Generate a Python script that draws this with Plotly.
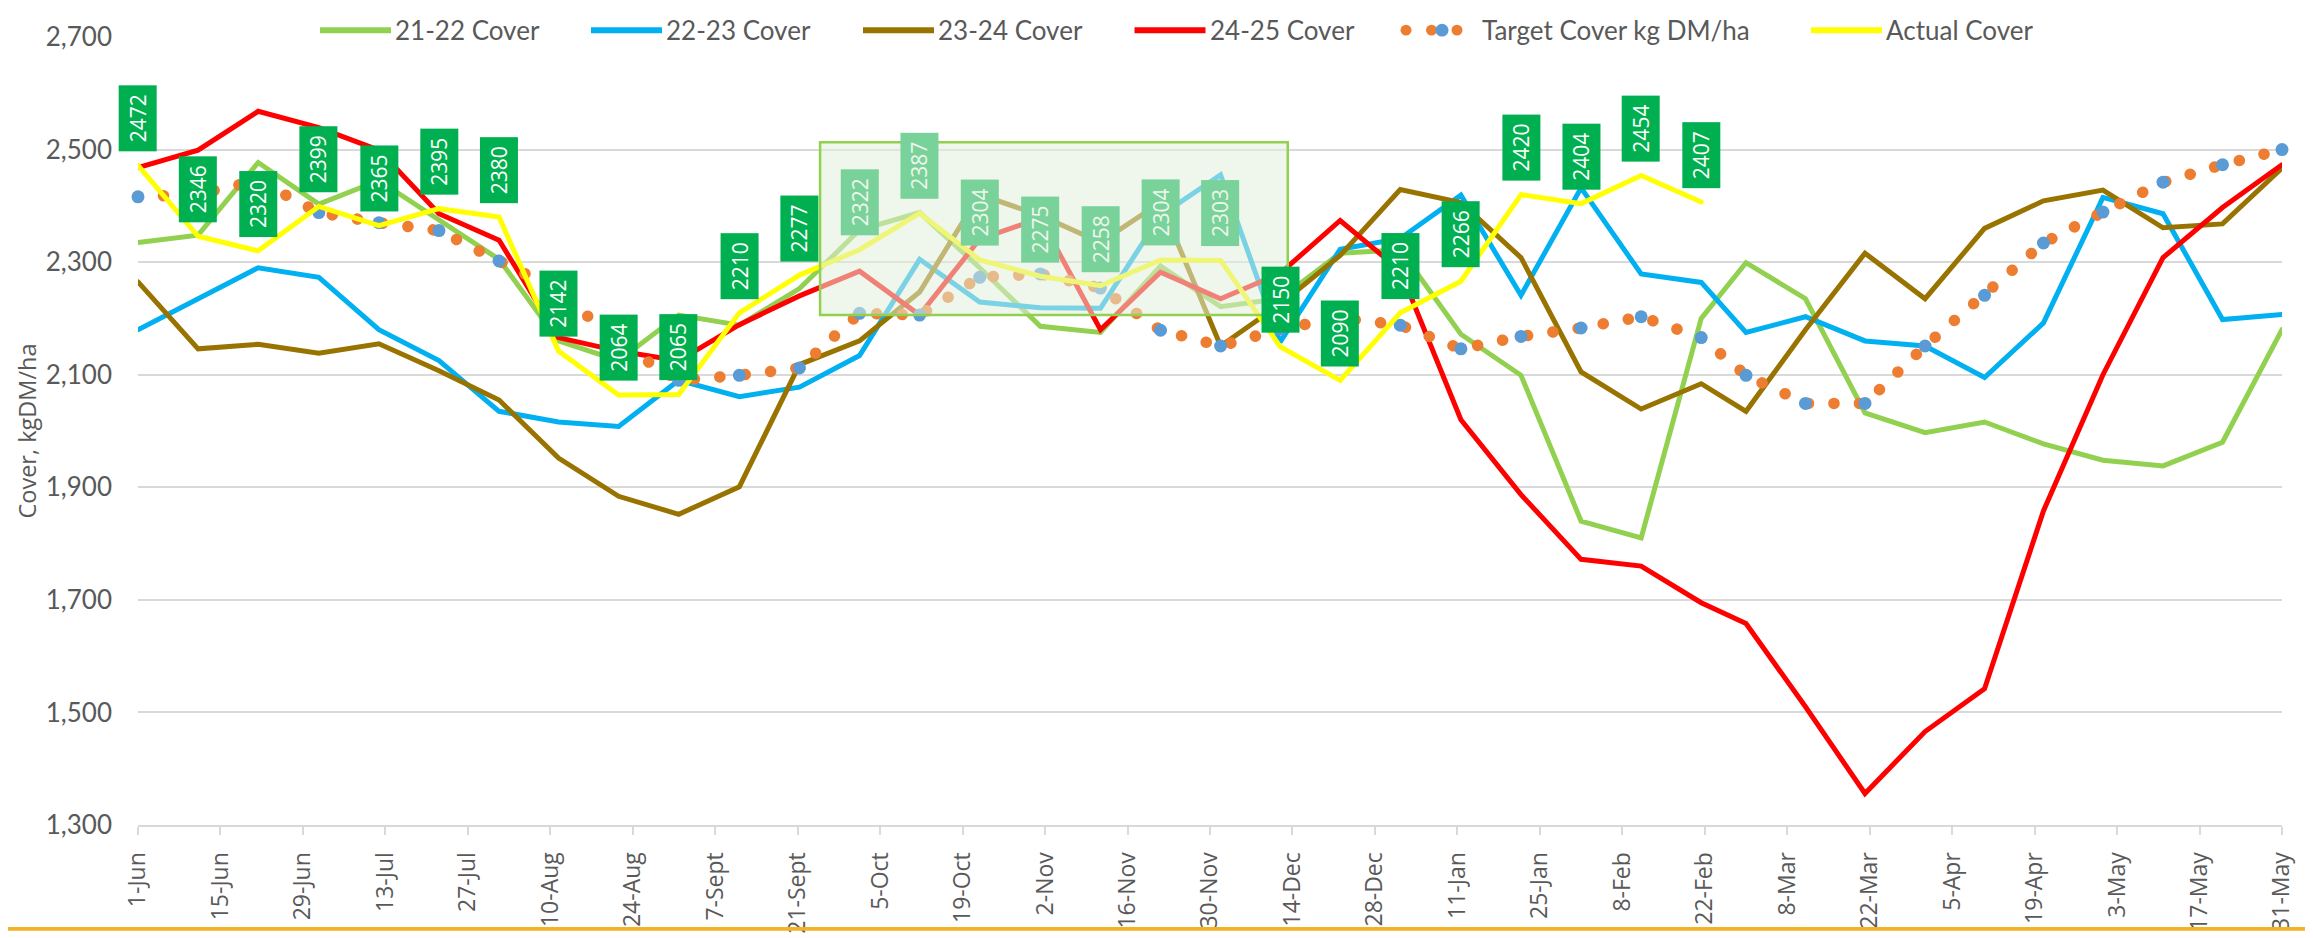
import plotly.graph_objects as go

# ---------------- data ----------------
tick_labels = ["1-Jun", "15-Jun", "29-Jun", "13-Jul", "27-Jul", "10-Aug", "24-Aug", "7-Sept",
               "21-Sept", "5-Oct", "19-Oct", "2-Nov", "16-Nov", "30-Nov", "14-Dec", "28-Dec",
               "11-Jan", "25-Jan", "8-Feb", "22-Feb", "8-Mar", "22-Mar", "5-Apr", "19-Apr",
               "3-May", "17-May", "31-May"]
tick_days = [0, 14, 28, 42, 56, 70, 84, 98, 112, 126, 140, 154, 168, 182, 196, 210,
             224, 238, 252, 266, 280, 294, 308, 322, 336, 350, 364]

# day of season (from 1-Jun) of each pasture walk
walk_days = [0, 10.2, 20.4, 30.7, 40.9, 51.1, 61.3, 71.4, 81.6, 91.8, 102.1, 112.3, 122.5,
             132.7, 142.9, 153.2, 163.4, 173.6, 183.8, 193.9, 204.1, 214.3, 224.6, 234.8,
             245.0, 255.2, 265.4, 273.0, 283.1, 293.2, 303.4, 313.5, 323.5, 333.6, 343.8,
             353.9, 364.0]

cover_21_22 = [2335, 2348, 2477, 2403, 2445, 2375, 2305, 2160, 2125, 2206, 2188, 2253, 2357,
               2388, 2290, 2186, 2175, 2293, 2221, 2235, 2316, 2322, 2172, 2099, 1840, 1810,
               2200, 2299, 2235, 2032, 1997, 2016, 1977, 1948, 1938, 1980, 2180]
cover_22_23 = [2180, 2235, 2290, 2273, 2180, 2125, 2035, 2016, 2008, 2090, 2061, 2078, 2134,
               2305, 2229, 2219, 2218, 2383, 2455, 2158, 2323, 2342, 2419, 2241, 2432, 2279,
               2264, 2175, 2203, 2160, 2151, 2095, 2192, 2415, 2386, 2198, 2207]
cover_23_24 = [2265, 2146, 2154, 2138, 2155, 2107, 2055, 1952, 1884, 1852, 1901, 2118, 2160,
               2247, 2420, 2383, 2335, 2406, 2151, 2225, 2312, 2429, 2406, 2308, 2105, 2039,
               2084, 2035, 2180, 2316, 2235, 2360, 2409, 2428, 2361, 2368, 2467]
cover_24_25 = [2468, 2499, 2568, 2539, 2499, 2386, 2339, 2166, 2142, 2125, 2189, 2240, 2284,
               2206, 2341, 2378, 2180, 2282, 2235, 2280, 2374, 2285, 2020, 1887, 1772, 1760,
               1695, 1658, 1510, 1356, 1466, 1542, 1858, 2100, 2308, 2397, 2473]
target_cover = [2416, 2421, 2445, 2388, 2370, 2356, 2302, 2250, 2155, 2090, 2099, 2112, 2209,
                2206, 2273, 2279, 2254, 2179, 2151, 2181, 2201, 2188, 2146, 2168, 2183, 2203,
                2166, 2099, 2049, 2049, 2151, 2241, 2334, 2389, 2442, 2473, 2500]
actual_cover = [2472, 2346, 2320, 2399, 2365, 2395, 2380, 2142, 2064, 2065, 2210, 2277, 2322,
                2387, 2304, 2275, 2258, 2304, 2303, 2150, 2090, 2210, 2266, 2420, 2404, 2454,
                2407]

# highlighted period (days, cover)
highlight_days = (115.8, 195.2)
highlight_cover = (2206, 2513)

# ---------------- style ----------------
W, H = 2313, 938
ML, MR, MT, MB = 130, 39, 26, 108
PW, PH = W - ML - MR, H - MT - MB

C_2122, C_2223, C_2324, C_2425 = "#92D050", "#00B0F0", "#997300", "#FF0000"
C_TGT_LINE, C_TGT_MARK, C_ACT = "#ED7D31", "#5B9BD5", "#FFFF00"
C_LABEL = "#00B050"
C_TEXT = "#595959"
C_GRID = "#D9D9D9"
NARROW = "Lato, Liberation Sans, sans-serif"
SANS = "Open Sans, Noto Sans, DejaVu Sans, sans-serif"

OVER_RGB = (226, 239, 218)
OVER_A = 0.54


def blend(hexcol):
    h = hexcol.lstrip("#")
    r, g, b = int(h[0:2], 16), int(h[2:4], 16), int(h[4:6], 16)
    out = [round(c * (1 - OVER_A) + o * OVER_A) for c, o in zip((r, g, b), OVER_RGB)]
    return "#%02X%02X%02X" % tuple(out)


def pxx(xp):
    return (xp - ML) / PW


def pxy(yp):
    return (H - MB - yp) / PH


fig = go.Figure()

for name, ys, col in [("21-22 Cover", cover_21_22, C_2122),
                      ("22-23 Cover", cover_22_23, C_2223),
                      ("23-24 Cover", cover_23_24, C_2324),
                      ("24-25 Cover", cover_24_25, C_2425)]:
    fig.add_trace(go.Scatter(x=walk_days, y=ys, mode="lines", name=name,
                             line=dict(color=col, width=5), hoverinfo="skip"))

fig.add_trace(go.Scatter(x=walk_days, y=target_cover, mode="lines+markers",
                         name="Target Cover kg DM/ha",
                         line=dict(color=C_TGT_LINE, width=11.5, dash="0.1px,25.4px"),
                         marker=dict(color=C_TGT_MARK, size=13, line=dict(width=0)),
                         cliponaxis=False, hoverinfo="skip"))

fig.add_trace(go.Scatter(x=walk_days[:len(actual_cover)], y=actual_cover, mode="lines",
                         name="Actual Cover", line=dict(color=C_ACT, width=5),
                         hoverinfo="skip"))

# data labels on the actual cover
annotations = []
for xd, v in zip(walk_days, actual_cover):
    inside = highlight_days[0] < xd < highlight_days[1] - 10
    bg = blend(C_LABEL) if inside else C_LABEL
    fg = blend("#FFFFFF") if inside else "#FFFFFF"
    annotations.append(dict(x=xd, y=v, xref="x", yref="y", text=str(v), showarrow=False,
                            textangle=-90, xanchor="center", yanchor="bottom", yshift=14,
                            width=58, height=30, borderpad=4, borderwidth=0,
                            bgcolor=bg, font=dict(family=SANS, size=21, color=fg)))

shapes = [
    # highlight box
    dict(type="rect", xref="x", yref="y", x0=highlight_days[0], x1=highlight_days[1],
         y0=highlight_cover[0], y1=highlight_cover[1], layer="above",
         fillcolor="rgba(%d,%d,%d,%.2f)" % (OVER_RGB + (OVER_A,)),
         line=dict(color=C_2122, width=2.5)),
    # gold rule along the bottom
    dict(type="rect", xref="paper", yref="paper", x0=pxx(0), x1=pxx(W),
         y0=pxy(H), y1=pxy(H - 4), fillcolor="#F5B324", line=dict(width=0), layer="above"),
]

# ---- legend (drawn as layout decoration) ----
LEG_Y = 19
legend_items = [("21-22 Cover", C_2122, 312), ("22-23 Cover", C_2223, 583),
                ("23-24 Cover", C_2324, 855), ("24-25 Cover", C_2425, 1126.5),
                ("Actual Cover", C_ACT, 1803)]
for name, col, x0 in legend_items:
    shapes.append(dict(type="line", xref="paper", yref="paper", x0=pxx(x0), x1=pxx(x0 + 71),
                       y0=pxy(LEG_Y), y1=pxy(LEG_Y), line=dict(color=col, width=6)))
    annotations.append(dict(x=pxx(x0 + 75), y=pxy(LEG_Y), xref="paper", yref="paper",
                            text=name, showarrow=False, xanchor="left", yanchor="middle",
                            borderpad=0, borderwidth=0,
                            font=dict(family=NARROW, size=26, color=C_TEXT)))
for cx, r, col in [(1398, 5.5, C_TGT_LINE), (1423.5, 5.5, C_TGT_LINE),
                   (1449, 5.5, C_TGT_LINE), (1434, 6.5, C_TGT_MARK)]:
    shapes.append(dict(type="circle", xref="paper", yref="paper",
                       x0=pxx(cx - r), x1=pxx(cx + r), y0=pxy(LEG_Y + r), y1=pxy(LEG_Y - r),
                       fillcolor=col, line=dict(width=0)))
annotations.append(dict(x=pxx(1473.5), y=pxy(LEG_Y), xref="paper", yref="paper",
                        text="Target Cover kg DM/ha", showarrow=False, xanchor="left",
                        yanchor="middle", borderpad=0, borderwidth=0,
                        font=dict(family=NARROW, size=26, color=C_TEXT)))

fig.update_layout(
    width=W, height=H,
    margin=dict(l=ML, r=MR, t=MT, b=MB, pad=0),
    paper_bgcolor="white", plot_bgcolor="white",
    showlegend=False,
    shapes=shapes, annotations=annotations,
    xaxis=dict(range=[0, 364], tickmode="array", tickvals=tick_days, ticktext=tick_labels,
               tickangle=-90, ticks="outside", ticklen=8, tickwidth=2, tickcolor=C_GRID,
               showgrid=False, zeroline=False, showline=True, linecolor=C_GRID, linewidth=2,
               tickfont=dict(family=SANS, size=23, color=C_TEXT), ticklabelstandoff=8),
    yaxis=dict(range=[1300, 2700], dtick=200, tick0=1300, tickformat=",",
               showgrid=True, gridcolor=C_GRID, gridwidth=2, zeroline=False, showline=False,
               ticks="", tickfont=dict(family=NARROW, size=26, color=C_TEXT),
               ticklabelstandoff=25,
               title=dict(text="Cover, kgDM/ha", standoff=2,
                          font=dict(family=SANS, size=23.5, color=C_TEXT))),
)

post = ("var s=document.createElement('style');"
        "s.innerHTML='.scatterlayer .trace path.js-line{stroke-linecap:round}';"
        "document.head.appendChild(s);")
fig.write_html("out.html", post_script=post)
